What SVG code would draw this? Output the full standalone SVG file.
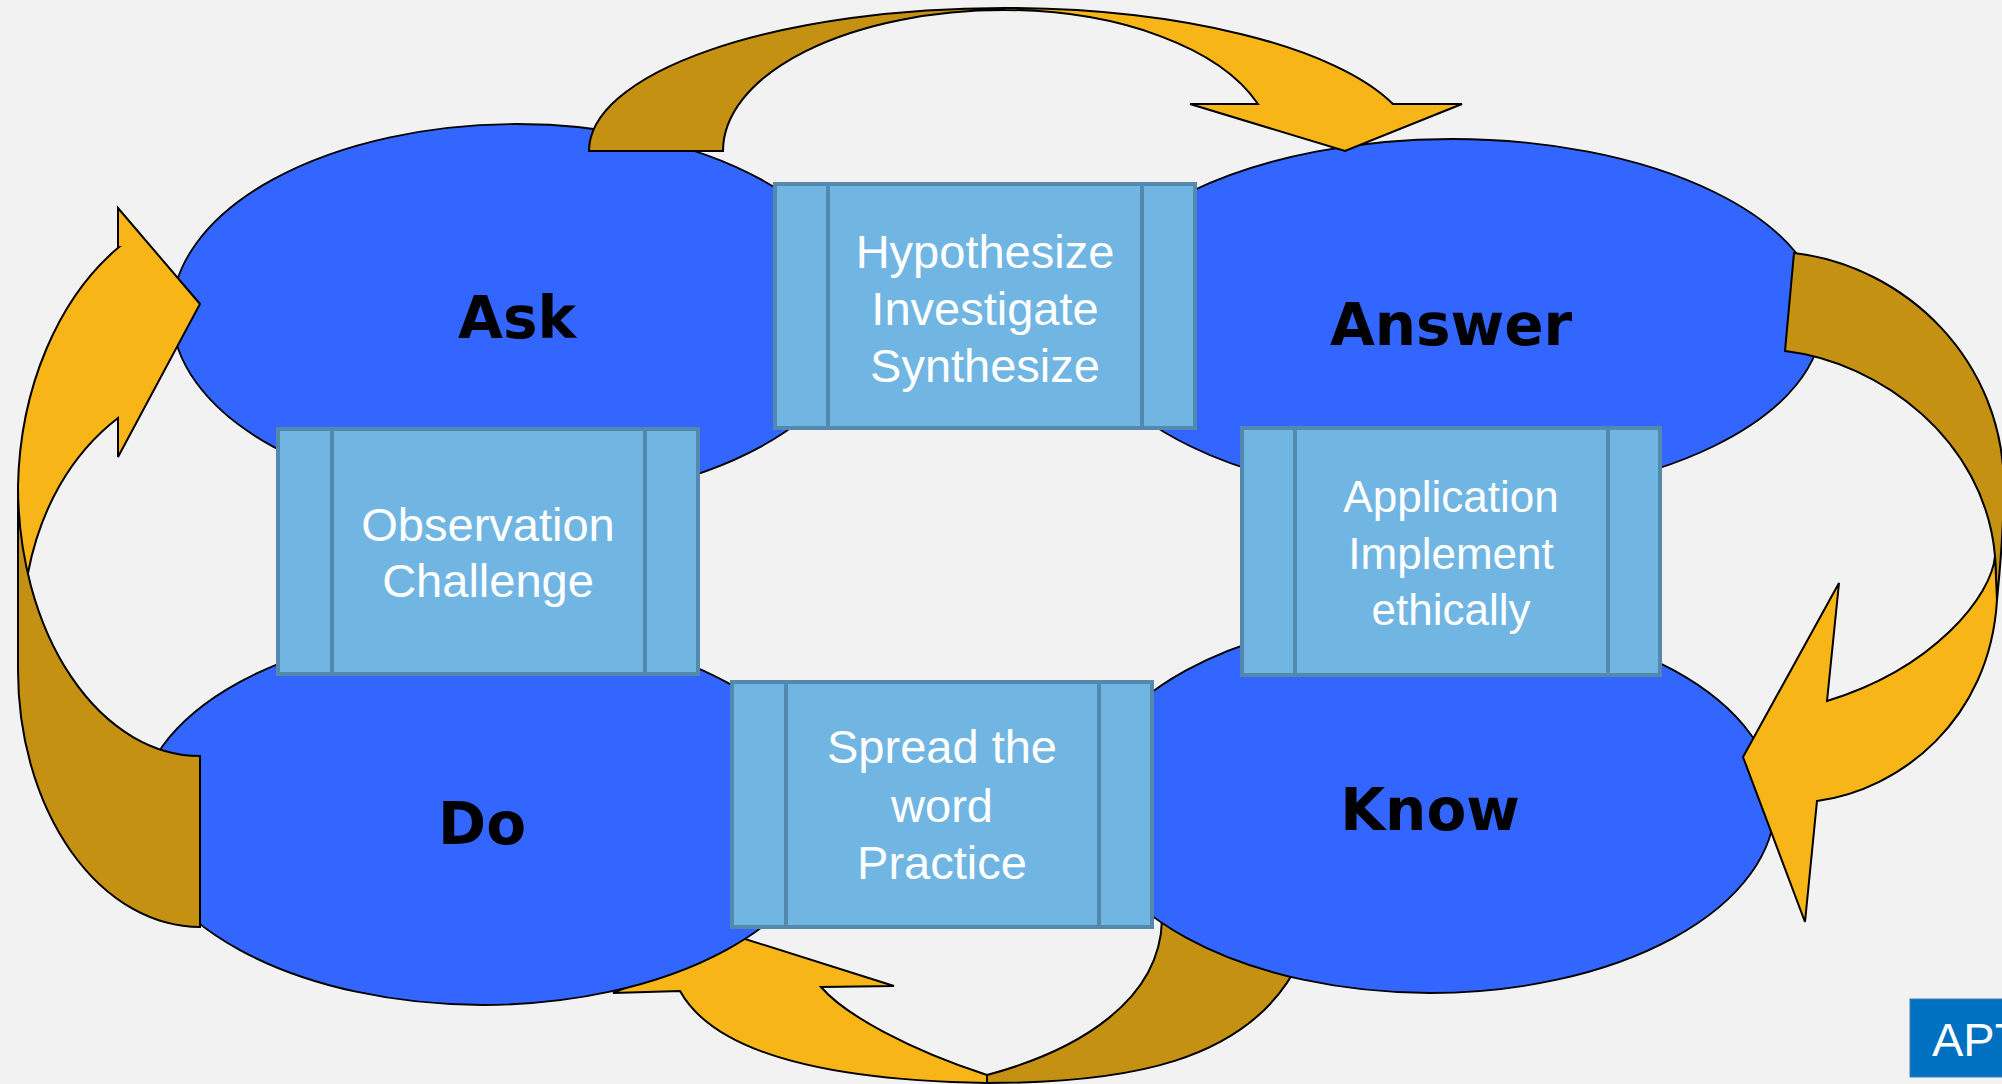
<svg xmlns="http://www.w3.org/2000/svg" width="2002" height="1084" viewBox="0 0 2002 1084">
<style>
.bg{fill:#F2F2F2}
.ell{fill:#3366FF;stroke:#000;stroke-width:1.8}
.dark{fill:#C59113;stroke:#000;stroke-width:2;stroke-linejoin:miter}
.gold{fill:#F7B518;stroke:#000;stroke-width:2;stroke-linejoin:miter}
.box{fill:#71B6E3;stroke:#5289AD;stroke-width:4}
.div{stroke:#5289AD;stroke-width:4}
.lbl{font-family:"DejaVu Sans",Verdana,sans-serif;font-weight:bold;font-size:58px;fill:#000;text-anchor:middle}
.bt{font-family:"Liberation Sans",Arial,sans-serif;font-size:47px;fill:#FFF;text-anchor:middle}
</style>
<rect class="bg" x="0" y="0" width="2002" height="1084"/>
<g id="connectors">
  <g id="arrow-bottom">
    <path class="dark" d="M987,1083 C1120,1083 1250,1065 1300,960 L1162,920 C1160,1000 1080,1050 987,1075 Z"/>
    <path class="gold" d="M821,987 L894,986 L742,938 L613,993 L680,991 C710,1045 800,1080 987,1083 L987,1075 C910,1050 845,1015 821,987 Z"/>
  </g>
</g>
<g id="node-ask"><ellipse class="ell" cx="517" cy="313" rx="345" ry="189"/></g>
<g id="node-answer"><ellipse class="ell" cx="1452" cy="319" rx="370" ry="180"/></g>
<g id="node-do"><ellipse class="ell" cx="483" cy="816" rx="345" ry="189"/></g>
<g id="node-know"><ellipse class="ell" cx="1430" cy="804" rx="345" ry="189"/></g>
<g id="connectors-front">
  <g id="arrow-top">
    <path class="dark" d="M589,151 A415,143 0 0 1 1004,8 L1004,10 A281,141 0 0 0 723,151 Z"/>
    <path class="gold" d="M1004,8 A412,143 0 0 1 1393,104 L1462,104 L1345,151 L1190,104 L1258,104 A269,141 0 0 0 1004,10 Z"/>
  </g>
  <g id="arrow-left">
    <path class="gold" d="M118,247 L118,208 L200,304 L118,457 L118,418 C70,455 40,510 28,573 L18,573 L18,486 A212,290 0 0 1 119,247 Z"/>
    <path class="dark" d="M200,927 A182,257 0 0 1 18,670 L18,486 A182,270 0 0 0 200,756 Z"/>
  </g>
  <g id="arrow-right">
    <path class="dark" d="M1794,253 C1905,266 2005,360 2004,490 C2003,540 2000,570 1997,600 L1995,556 C1985,440 1880,362 1785,351 Z"/>
    <path class="gold" d="M1995,556 C1992,595 1935,668 1827,701 L1839,583 L1743,757 L1805,922 L1817,801 C1900,790 1990,720 1997,600 Z"/>
  </g>
</g>
<g id="label-ask"><text class="lbl" x="517" y="338">Ask</text></g>
<g id="label-answer"><text class="lbl" x="1451" y="345">Answer</text></g>
<g id="label-do"><text class="lbl" x="482" y="844">Do</text></g>
<g id="label-know"><text class="lbl" x="1430" y="830">Know</text></g>
<g id="box-hypothesize">
  <rect class="box" x="775" y="184" width="420" height="244"/>
  <line class="div" x1="828" y1="184" x2="828" y2="428"/>
  <line class="div" x1="1142" y1="184" x2="1142" y2="428"/>
  <text class="bt" x="985" y="268">Hypothesize</text>
  <text class="bt" x="985" y="325">Investigate</text>
  <text class="bt" x="985" y="382">Synthesize</text>
</g>
<g id="box-observation">
  <rect class="box" x="278" y="429" width="420" height="245"/>
  <line class="div" x1="332" y1="429" x2="332" y2="674"/>
  <line class="div" x1="645" y1="429" x2="645" y2="674"/>
  <text class="bt" x="488" y="541">Observation</text>
  <text class="bt" x="488" y="597">Challenge</text>
</g>
<g id="box-application">
  <rect class="box" x="1242" y="428" width="418" height="247"/>
  <line class="div" x1="1295" y1="428" x2="1295" y2="675"/>
  <line class="div" x1="1608" y1="428" x2="1608" y2="675"/>
  <text class="bt" x="1451" y="512" style="font-size:44px">Application</text>
  <text class="bt" x="1451" y="569" style="font-size:44px">Implement</text>
  <text class="bt" x="1451" y="625" style="font-size:44px">ethically</text>
</g>
<g id="box-spread">
  <rect class="box" x="732" y="682" width="420" height="245"/>
  <line class="div" x1="786" y1="682" x2="786" y2="927"/>
  <line class="div" x1="1099" y1="682" x2="1099" y2="927"/>
  <text class="bt" x="942" y="763">Spread the</text>
  <text class="bt" x="942" y="822">word</text>
  <text class="bt" x="942" y="879">Practice</text>
</g>
<g id="badge-apt">
  <rect x="1910" y="999" width="100" height="78" fill="#0070C0" stroke="#3F7FB8" stroke-width="1"/>
  <text x="1932" y="1056" font-family="Liberation Sans, Arial, sans-serif" font-size="47" fill="#FFFFFF">APT</text>
</g>
</svg>
